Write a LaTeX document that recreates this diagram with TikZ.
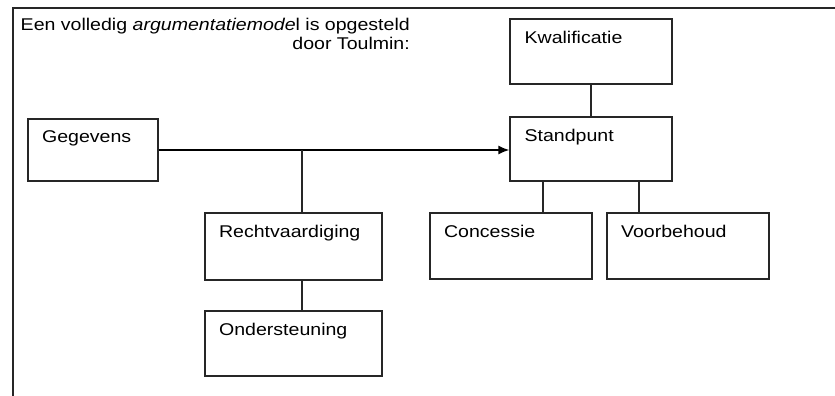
\documentclass[tikz,border=0pt]{standalone}
\usepackage{fontspec}
\setmainfont[FakeStretch=1.15]{Liberation Sans}
\usetikzlibrary{arrows.meta}
\definecolor{ink}{HTML}{262626}
\begin{document}
\begin{tikzpicture}[x=1pt,y=-1pt,
  box/.style={draw=ink,line width=1.2pt,rectangle,inner sep=0pt},
  lbl/.style={anchor=base west,inner sep=0pt,text=black,font=\fontsize{17}{20}\selectfont},
  conn/.style={draw=ink,line width=1.2pt},
  mainarrow/.style={draw=black,line width=1.7pt,-{Latex[length=11pt,width=9pt]}}]
\useasboundingbox (0,0) rectangle (835,396);
% frame
\coordinate (fr1) at (835,8);
\coordinate (fr2) at (13,8);
\coordinate (fr3) at (13,396);
\draw[ink,line width=1.4pt] (fr1) -- (fr2) -- (fr3);
% title
\node[anchor=base east,inner sep=0pt,font=\fontsize{17}{20}\selectfont] (t1) at (410,31) {Een volledig \textit{argumentatiemode}l is opgesteld};
\node[anchor=base east,inner sep=0pt,font=\fontsize{17}{20}\selectfont] (t2) at (410,50) {door Toulmin:};
% boxes
\node[box,minimum width=130pt,minimum height=62pt] (geg) at (93,150) {};
\node[box,minimum width=162pt,minimum height=65pt] (kw) at (591,51.5) {};
\node[box,minimum width=162pt,minimum height=64pt] (st) at (591,149) {};
\node[box,minimum width=177pt,minimum height=67pt] (re) at (293.5,246.5) {};
\node[box,minimum width=177pt,minimum height=65pt] (on) at (293.5,343.5) {};
\node[box,minimum width=162pt,minimum height=66pt] (co) at (511,246) {};
\node[box,minimum width=162pt,minimum height=66pt] (vo) at (688,246) {};
% labels
\node[lbl] (lgeg) at ([shift={(14.5,24.5)}]geg.north west) {Gegevens};
\node[lbl] (lkw) at ([shift={(15,25)}]kw.north west) {Kwalificatie};
\node[lbl] (lst) at ([shift={(15,25.5)}]st.north west) {Standpunt};
\node[lbl] (lre) at ([shift={(14.5,25)}]re.north west) {Rechtvaardiging};
\node[lbl] (lon) at ([shift={(14.5,25)}]on.north west) {Ondersteuning};
\node[lbl] (lco) at ([shift={(14.5,25)}]co.north west) {Concessie};
\node[lbl] (lvo) at ([shift={(14.5,25)}]vo.north west) {Voorbehoud};
% connectors
\draw[mainarrow] (geg.east) -- (geg.east -| st.west);
\coordinate (j) at (302,150);
\draw[conn] (j) -- (j |- re.north);
\draw[conn] (re.south -| j) -- (on.north -| j);
\draw[conn] (kw.south) -- (st.north);
\coordinate (sc) at (543,181);
\coordinate (sv) at (639,181);
\draw[conn] (sc) -- (sc |- co.north);
\draw[conn] (sv) -- (sv |- vo.north);
\end{tikzpicture}
\end{document}
